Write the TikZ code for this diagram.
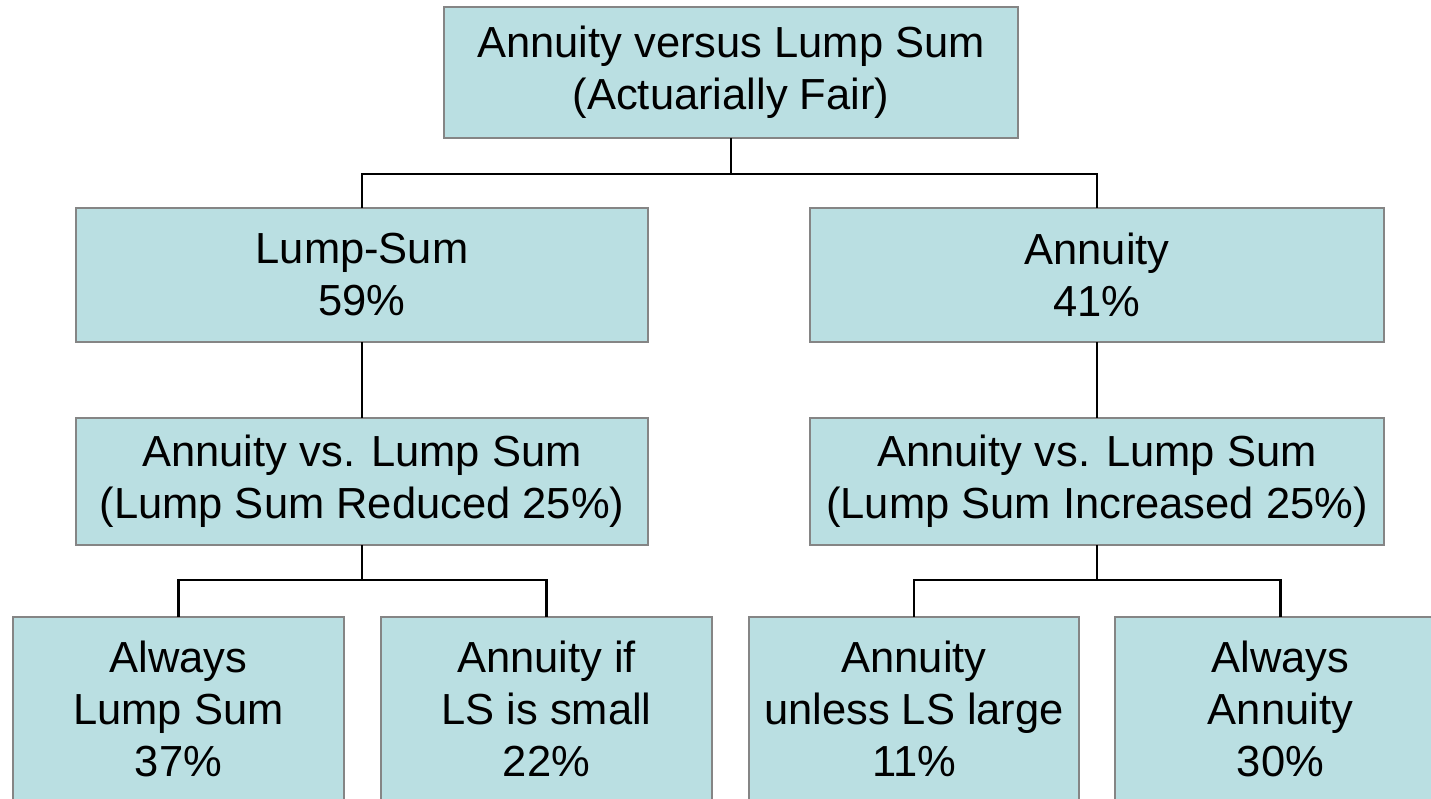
\documentclass[tikz,border=0pt]{standalone}
\usepackage{fontspec}
\setmainfont{Liberation Sans}
\definecolor{boxfill}{HTML}{BADFE2}
\definecolor{boxline}{HTML}{858585}
\begin{document}
\begin{tikzpicture}[x=1pt,y=-1pt,
  box/.style={draw=boxline, line width=2.5pt, fill=boxfill, align=center,
    inner sep=0pt, outer sep=0pt, font=\fontsize{43.5}{52}\selectfont},
  conn/.style={draw=black, line width=2.5pt}]
\clip (0,0) rectangle (1431,799);
\fill[white] (0,0) rectangle (1431,799);
\node[box, minimum width=574pt, minimum height=131pt] (top) at (731,72.5) {Annuity versus Lump Sum\\(Actuarially Fair)};
\node[box, minimum width=572pt, minimum height=134pt] (ls) at (362,275) {Lump-Sum\\59\%};
\node[box, minimum width=574pt, minimum height=134pt] (an) at (1097,275) {Annuity\\41\%};
\node[box, minimum width=572pt, minimum height=127pt] (lsr) at (362,481.5) {Annuity vs. Lump Sum\\(Lump Sum Reduced 25\%)};
\node[box, minimum width=574pt, minimum height=127pt] (ani) at (1097,481.5) {Annuity vs. Lump Sum\\(Lump Sum Increased 25\%)};
\node[box, minimum width=331pt, minimum height=183pt] (b1) at (178.5,708.5) {Always\\Lump Sum\\37\%};
\node[box, minimum width=331pt, minimum height=183pt] (b2) at (546.5,708.5) {Annuity if\\LS is small\\22\%};
\node[box, minimum width=330pt, minimum height=183pt] (b3) at (914,708.5) {Annuity\\unless LS large\\11\%};
\node[box, minimum width=331pt, minimum height=183pt] (b4) at (1280.5,708.5) {Always\\Annuity\\30\%};
\draw[conn] (top.south) -- ++(0,36) coordinate (j1) -| (ls.north);
\draw[conn] (j1) -| (an.north);
\draw[conn] (ls.south) -- (lsr.north);
\draw[conn] (an.south) -- (ani.north);
\draw[conn] (lsr.south) -- ++(0,35) coordinate (j2) -| (b1.north);
\draw[conn] (j2) -| (b2.north);
\draw[conn] (ani.south) -- ++(0,35) coordinate (j3) -| (b3.north);
\draw[conn] (j3) -| (b4.north);
\end{tikzpicture}
\end{document}
